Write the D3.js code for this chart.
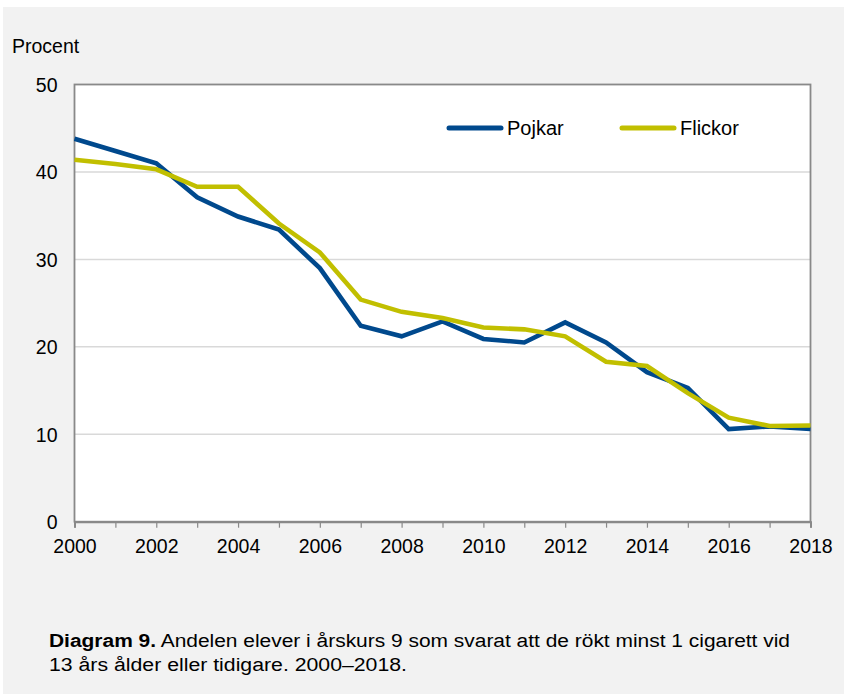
<!DOCTYPE html>
<html>
<head>
<meta charset="utf-8">
<script src="https://cdn.jsdelivr.net/npm/d3@7"></script>
<style>
  html, body { margin: 0; padding: 0; background: #ffffff; }
  svg { display: block; }
  text { font-family: "Liberation Sans", Arial, sans-serif; fill: #000; }
</style>
</head>
<body>
<svg id="chart" width="844" height="694"></svg>
<script>
const years = [2000, 2001, 2002, 2003, 2004, 2005, 2006, 2007, 2008, 2009,
               2010, 2011, 2012, 2013, 2014, 2015, 2016, 2017, 2018];
const pojkar = [43.8, 42.4, 41.0, 37.1, 34.9, 33.4, 29.0, 22.4, 21.2, 22.9,
                20.9, 20.5, 22.8, 20.5, 17.1, 15.3, 10.6, 10.9, 10.6];
const flickor = [41.4, 40.9, 40.3, 38.3, 38.3, 34.1, 30.8, 25.4, 24.0, 23.3,
                 22.2, 22.0, 21.2, 18.3, 17.8, 14.7, 11.9, 10.95, 11.0];
const yTicks = [0, 10, 20, 30, 40, 50];
const xLabelYears = [2000, 2002, 2004, 2006, 2008, 2010, 2012, 2014, 2016, 2018];
const seriesNames = ["Pojkar", "Flickor"];
const seriesColors = ["#00498d", "#c1bf00"];
const yLabel = "Procent";
const captionBold = "Diagram 9.";
const captionLine1 = " Andelen elever i årskurs 9 som svarat att de rökt minst 1 cigarett vid";
const captionLine2 = "13 års ålder eller tidigare. 2000–2018.";

const svg = d3.select("#chart");
svg.append("rect").attr("x", 3).attr("y", 7).attr("width", 841).attr("height", 687).attr("fill", "#f2f2f2");

const pLeft = 74.5, pRight = 810.5, pTop = 84.5, pBottom = 521.7;
const x = d3.scaleLinear().domain([2000, 2018]).range([pLeft, pRight]);
const y = d3.scaleLinear().domain([0, 50]).range([pBottom, pTop]);

svg.append("rect").attr("x", pLeft).attr("y", pTop).attr("width", pRight - pLeft).attr("height", pBottom - pTop)
  .attr("fill", "#ffffff");

// gridlines
svg.append("g").selectAll("line").data(yTicks.filter(d => d > 0 && d < 50)).join("line")
  .attr("x1", pLeft).attr("x2", pRight).attr("y1", d => y(d)).attr("y2", d => y(d))
  .attr("stroke", "#d9d9d9").attr("stroke-width", 1.5);

// frame
svg.append("rect").attr("x", pLeft).attr("y", pTop).attr("width", pRight - pLeft).attr("height", pBottom - pTop)
  .attr("fill", "none").attr("stroke", "#898989").attr("stroke-width", 1.8);

// x axis
const xAxis = d3.axisBottom(x).tickValues(years).tickSize(6).tickFormat(d => xLabelYears.includes(d) ? d : "");
const gx = svg.append("g").attr("transform", `translate(0,${pBottom})`).call(xAxis);
gx.select(".domain").attr("stroke", "#898989").attr("stroke-width", 2);
gx.selectAll(".tick line").attr("stroke", "#898989").attr("stroke-width", 1.2);
gx.selectAll(".tick text").attr("font-size", 19.5).attr("font-family", "Liberation Sans, Arial, sans-serif")
  .attr("fill", "#000").attr("dy", null).attr("y", 31.5);

// y axis
const yAxis = d3.axisLeft(y).tickValues(yTicks).tickSize(0).tickPadding(17);
const gy = svg.append("g").attr("transform", `translate(${pLeft},0)`).call(yAxis);
gy.select(".domain").remove();
gy.selectAll(".tick text").attr("font-size", 19.5).attr("font-family", "Liberation Sans, Arial, sans-serif")
  .attr("fill", "#000").attr("dy", "0.36em");

svg.append("text").attr("x", 12).attr("y", 53).attr("font-size", 19.5).text(yLabel);

// lines
const line = d3.line().x((d, i) => x(years[i])).y(d => y(d));
[pojkar, flickor].forEach((s, i) => {
  svg.append("path").datum(s).attr("d", line).attr("fill", "none")
    .attr("stroke", seriesColors[i]).attr("stroke-width", 4.6).attr("stroke-linejoin", "miter");
});

// legend
const legendX = [447, 620];
seriesNames.forEach((name, i) => {
  const g = svg.append("g");
  g.append("line").attr("x1", legendX[i] + 2).attr("x2", legendX[i] + 54).attr("y1", 128).attr("y2", 128)
    .attr("stroke", seriesColors[i]).attr("stroke-width", 5).attr("stroke-linecap", "round");
  g.append("text").attr("x", legendX[i] + 60).attr("y", 135).attr("font-size", 20).text(name);
});

// caption
const cap1 = svg.append("text").attr("x", 49).attr("y", 647).attr("font-size", 18)
  .attr("textLength", 741).attr("lengthAdjust", "spacingAndGlyphs");
cap1.append("tspan").attr("font-weight", "bold").text(captionBold);
cap1.append("tspan").text(captionLine1);
svg.append("text").attr("x", 49).attr("y", 671).attr("font-size", 18)
  .attr("textLength", 358).attr("lengthAdjust", "spacingAndGlyphs").text(captionLine2);
</script>
</body>
</html>
